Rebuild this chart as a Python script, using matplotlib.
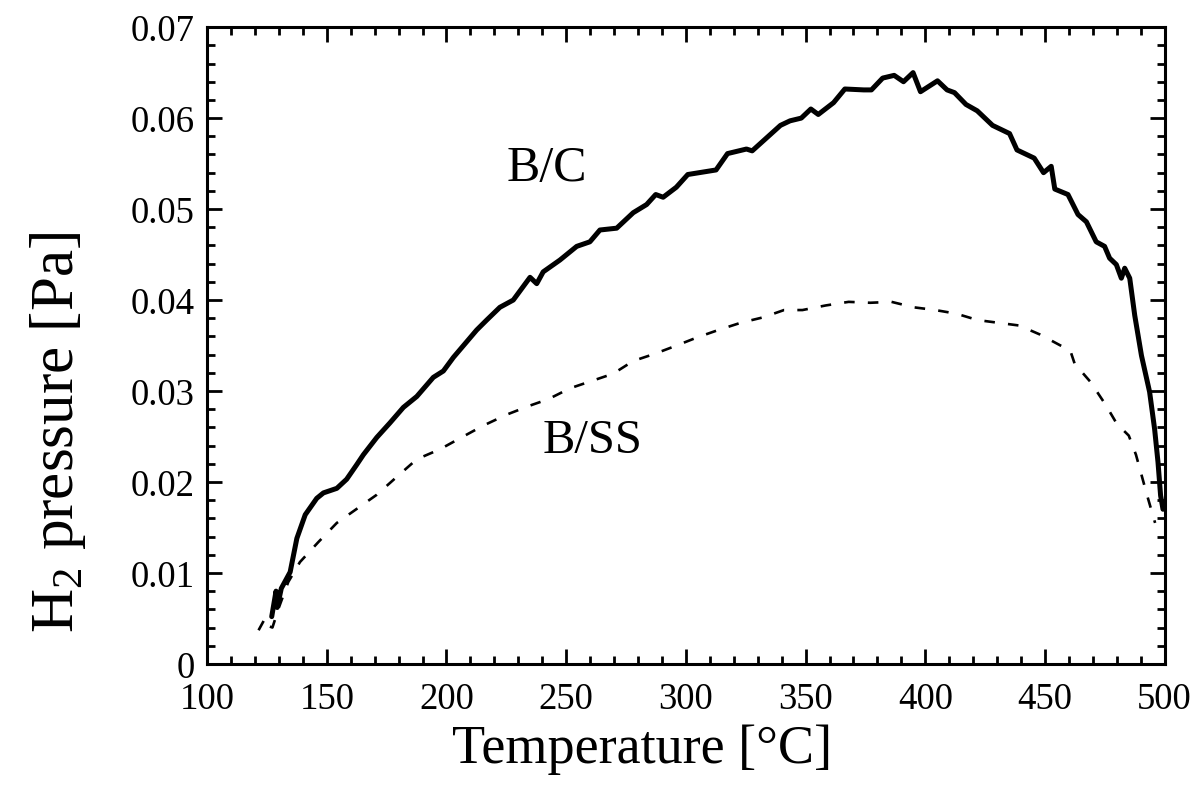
import matplotlib
matplotlib.use("Agg")
import matplotlib.pyplot as plt
from matplotlib.ticker import MultipleLocator

# B/C (solid) data
temp_bc = [127, 128.8, 129.3, 131, 134.7, 137.5, 141, 145.8, 148.6, 154.2, 158.3, 162.5,
           165.3, 170.9, 176.4, 182, 187.6, 194.5, 198.7, 202.9, 212.6, 216.8, 222.3,
           227.9, 234.9, 237.7, 240.4, 247.4, 254.4, 259.9, 264.1, 271.1, 278, 283.6,
           287.4, 290.5, 296, 300.8, 312.6, 317.4, 325.3, 327.7, 339.5, 343.5, 348.2,
           352.2, 355.3, 361.7, 366.4, 374.3, 377.5, 382.2, 387, 390.9, 394.9, 398,
           405.1, 409.1, 412.2, 417, 421.7, 428.1, 435.2, 438.3, 445.5, 449.4, 452.6,
           454.1, 459.6, 463.8, 467.3, 471.4, 474.9, 477, 479.8, 481.9, 483.3, 485.4,
           487.5, 490.3, 493.7, 495.8, 497.2, 498.3, 499.3]
pres_bc = [0.0052, 0.0080, 0.0062, 0.0083, 0.0101, 0.0138, 0.0164, 0.0182, 0.0188, 0.0193,
           0.0203, 0.0219, 0.0230, 0.0249, 0.0265, 0.0282, 0.0294, 0.0315, 0.0322, 0.0337,
           0.0367, 0.0378, 0.0392, 0.0400, 0.0425, 0.0418, 0.0431, 0.0444, 0.0459, 0.0464,
           0.0477, 0.0479, 0.0496, 0.0505, 0.0516, 0.0513, 0.0524, 0.0538, 0.0543, 0.0561,
           0.0566, 0.0564, 0.0592, 0.0597, 0.0600, 0.0610, 0.0604, 0.0617, 0.0632, 0.0631,
           0.0631, 0.0644, 0.0647, 0.0640, 0.0650, 0.0629, 0.0641, 0.0631, 0.0628, 0.0615,
           0.0608, 0.0592, 0.0583, 0.0565, 0.0556, 0.0540, 0.0547, 0.0522, 0.0516, 0.0494,
           0.0486, 0.0464, 0.0459, 0.0446, 0.0439, 0.0424, 0.0435, 0.0424, 0.0383, 0.0339,
           0.0299, 0.0258, 0.0222, 0.0185, 0.0170]

# B/SS (dashed) data
temp_ss = [121.5, 124.2, 125.2, 127.3, 130, 133.9, 138.8, 146.5, 154.2, 163.9, 170.9, 179.4,
           187.6, 197.3, 206.3, 215.4, 225.1, 234.9, 242.5, 251.6, 260.6, 269.6, 278, 287.1,
           296.1, 304.8, 313.5, 322.9, 332.3, 341, 348.7, 358.3, 368, 377, 385.9, 395.2,
           404.2, 413, 421.8, 430.5, 439.2, 448, 456.5, 460.5, 462.4, 469, 475.3, 480, 485,
           488, 490.5, 492.8, 495, 496]
pres_ss = [0.0037, 0.0050, 0.0042, 0.0040, 0.0062, 0.0090, 0.0112, 0.0134, 0.0155, 0.0173,
           0.0186, 0.0206, 0.0225, 0.0236, 0.0249, 0.0262, 0.0274, 0.0284, 0.0291, 0.0303,
           0.0311, 0.0319, 0.0333, 0.0341, 0.0350, 0.0359, 0.0367, 0.0375, 0.0381, 0.0389,
           0.0389, 0.0394, 0.0398, 0.0397, 0.0398, 0.0392, 0.0389, 0.0385, 0.0378, 0.0375,
           0.0372, 0.0362, 0.0350, 0.0345, 0.0330, 0.0310, 0.0285, 0.0264, 0.0251, 0.0230,
           0.0206, 0.0184, 0.0164, 0.0155]

x_ticks = [100, 150, 200, 250, 300, 350, 400, 450, 500]
y_ticks = [0, 0.01, 0.02, 0.03, 0.04, 0.05, 0.06, 0.07]
y_tick_labels = ["0", "0.01", "0.02", "0.03", "0.04", "0.05", "0.06", "0.07"]

plt.rcParams['font.family'] = ['Liberation Serif', 'DejaVu Serif']
plt.rcParams['mathtext.fontset'] = 'custom'
plt.rcParams['mathtext.rm'] = 'Liberation Serif'

fig = plt.figure(figsize=(11.97, 8.04), dpi=100)
ax = fig.add_axes([0.173, 0.173, 0.800, 0.792])

ax.plot(temp_bc, pres_bc, color='black', lw=3.6, solid_joinstyle='round', solid_capstyle='round')
ax.plot(temp_ss, pres_ss, color='black', lw=1.9, dashes=(4, 5))

ax.set_xlim(100, 500)
ax.set_ylim(0, 0.07)
ax.set_xticks(x_ticks)
ax.set_yticks(y_ticks)
ax.set_yticklabels(y_tick_labels)
ax.xaxis.set_minor_locator(MultipleLocator(10))
ax.yaxis.set_minor_locator(MultipleLocator(0.002))

ax.tick_params(which='both', direction='in', top=True, right=True, width=2, colors='black')
ax.tick_params(which='major', length=11, labelsize=26.5)
ax.tick_params(axis='x', which='major', pad=13)
ax.tick_params(axis='y', which='major', pad=9)
ax.tick_params(which='minor', length=6)
for s in ax.spines.values():
    s.set_linewidth(2.2)

ax.set_xlabel("Temperature [°C]", fontsize=39)
ax.xaxis.set_label_coords(0.454, -0.094)
ax.set_ylabel("H$_2$ pressure [Pa]", fontsize=44)
ax.yaxis.set_label_coords(-0.124, 0.366)

ax.text(242, 0.0545, "B/C", fontsize=36, ha='center', va='center')
ax.text(261, 0.0246, "B/SS", fontsize=35, ha='center', va='center')

fig.savefig("out.png", dpi=100)
